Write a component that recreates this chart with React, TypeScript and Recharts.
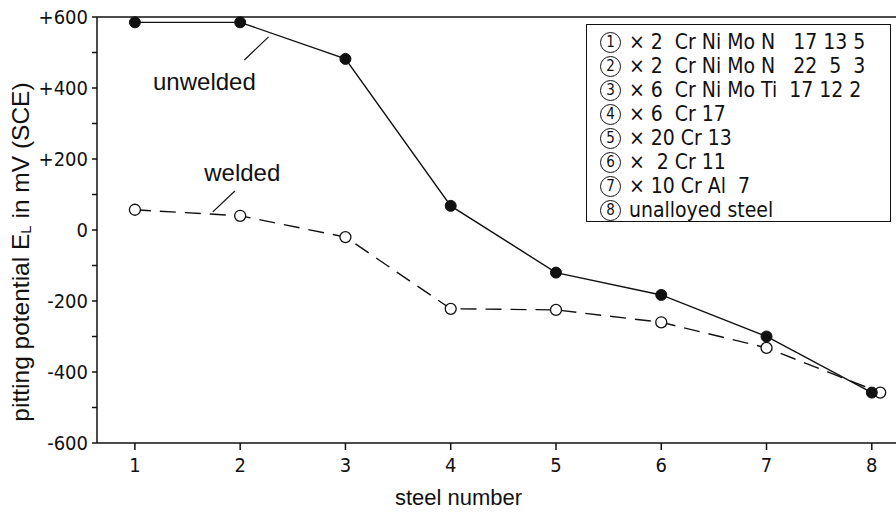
import React from "react";
import { LineChart, Line, XAxis, YAxis, ReferenceLine, ReferenceDot } from "recharts";

const steelNumbers = [1, 2, 3, 4, 5, 6, 7, 8];
const unweldedValues = [585, 585, 482, 68, -120, -183, -300, -458];
const weldedPositions = [1, 2, 3, 4, 5, 6, 7, 8.08];
const weldedValues = [57, 40, -20, -222, -225, -260, -332, -458];
const yTicks = [-600, -500, -400, -300, -200, -100, 0, 100, 200, 300, 400, 500, 600];
const xTicks = [1, 2, 3, 4, 5, 6, 7, 8];
const legendNumbers = ["1", "2", "3", "4", "5", "6", "7", "8"];
const legendTexts = [
  "× 2  Cr Ni Mo N   17 13 5",
  "× 2  Cr Ni Mo N   22  5  3",
  "× 6  Cr Ni Mo Ti  17 12 2",
  "× 6  Cr 17",
  "× 20 Cr 13",
  "×  2 Cr 11",
  "× 10 Cr Al  7",
  "unalloyed steel",
];

const unweldedData = steelNumbers.map((x, i) => ({ x, y: unweldedValues[i] }));
const weldedData = weldedPositions.map((x, i) => ({ x, y: weldedValues[i] }));

const NARROW = "'DejaVu Sans', sans-serif";
const SANS = "'Liberation Sans', Arial, sans-serif";

const YTick = (props: any) => {
  const { x, y, payload } = props;
  const v = payload.value;
  if (v % 200 !== 0) return null;
  const label = v > 0 ? `+${v}` : v < 0 ? `-${Math.abs(v)}` : "0";
  return (
    <text x={x - 2} y={y} dy={7} textAnchor="end" fontSize={20} fontFamily={NARROW} style={{ fontStretch: "condensed" }} fill="#111">
      {label}
    </text>
  );
};

const XTick = (props: any) => {
  const { x, y, payload } = props;
  return (
    <text x={x} y={y} dy={20} textAnchor="middle" fontSize={20} fontFamily={NARROW} style={{ fontStretch: "condensed" }} fill="#111">
      {payload.value}
    </text>
  );
};

const XLabel = (props: any) => {
  const vb = props.viewBox || {};
  const cx = (vb.x ?? 97) + (vb.width ?? 799) / 2 - 38;
  const cy = 505;
  return (
    <text x={cx} y={cy} textAnchor="middle" fontSize={22} fontFamily={SANS} fill="#111">
      steel number
    </text>
  );
};

const YLabel = () => {
  const cx = 20;
  const cy = 252;
  return (
    <text
      x={cx}
      y={cy}
      transform={`rotate(-90, ${cx}, ${cy})`}
      textAnchor="middle"
      dominantBaseline="central"
      fontSize={24.5}
      fontFamily={SANS}
      fill="#111"
    >
      pitting potential E
      <tspan fontSize={15} dy={5}>L</tspan>
      <tspan dy={-5}> in mV (SCE)</tspan>
    </text>
  );
};

const OpenDot = (props: any) => {
  const { cx, cy } = props;
  return <circle cx={cx} cy={cy} r={5.5} fill="#fff" stroke="#111" strokeWidth={1.3} />;
};
const FilledDot = (props: any) => {
  const { cx, cy } = props;
  return <circle cx={cx} cy={cy} r={5.5} fill="#111" stroke="#111" strokeWidth={1} />;
};

export default function App() {
  return (
    <div style={{ position: "absolute", left: 0, top: 0, width: 896, height: 515, background: "#fff" }}>
      <LineChart width={896} height={515} margin={{ top: 17, right: 0, bottom: 0, left: 0 }}>
        <XAxis
          type="number"
          dataKey="x"
          domain={[0.64, 8.23]}
          ticks={xTicks}
          allowDataOverflow
          height={72}
          tick={<XTick />}
          tickSize={7}
          stroke="#111"
          strokeWidth={1.5}
          label={<XLabel />}
        />
        <YAxis
          type="number"
          dataKey="y"
          domain={[-600, 600]}
          ticks={yTicks}
          width={97}
          tick={<YTick />}
          tickSize={5}
          stroke="#111"
          strokeWidth={1.5}
          label={<YLabel />}
        />
        <ReferenceLine y={600} stroke="#111" strokeWidth={1.5} ifOverflow="extendDomain" />
        <ReferenceLine
          segment={[{ x: 2.04, y: 479 }, { x: 2.27, y: 544 }]}
          stroke="#111"
          strokeWidth={1.2}
        />
        <ReferenceLine
          segment={[{ x: 1.74, y: 51 }, { x: 1.95, y: 110 }]}
          stroke="#111"
          strokeWidth={1.2}
        />
        <ReferenceDot
          x={1.66}
          y={417}
          r={0}
          fill="none"
          stroke="none"
          label={{ value: "unwelded", position: "center", fontSize: 24, fontFamily: SANS, fill: "#111" }}
        />
        <ReferenceDot
          x={2.02}
          y={163}
          r={0}
          fill="none"
          stroke="none"
          label={{ value: "welded", position: "center", fontSize: 24, fontFamily: SANS, fill: "#111" }}
        />
        <Line
          data={weldedData}
          dataKey="y"
          type="linear"
          stroke="#111"
          strokeWidth={1.4}
          strokeDasharray="16 9"
          dot={<OpenDot />}
          isAnimationActive={false}
        />
        <Line
          data={unweldedData}
          dataKey="y"
          type="linear"
          stroke="#111"
          strokeWidth={1.4}
          dot={<FilledDot />}
          isAnimationActive={false}
        />
      </LineChart>
      <div
        style={{
          position: "absolute",
          left: 586,
          top: 24,
          width: 305,
          height: 198,
          border: "1.5px solid #111",
          background: "#fff",
          boxSizing: "border-box",
          padding: "5px 0 0 13px",
          fontFamily: NARROW,
          fontStretch: "condensed",
          fontSize: 21,
          lineHeight: "24px",
          color: "#111",
          whiteSpace: "pre",
        }}
      >
        {legendTexts.map((t, i) => (
          <div key={t} style={{ display: "flex", alignItems: "center", height: 24 }}>
            <span
              style={{
                display: "inline-flex",
                alignItems: "center",
                justifyContent: "center",
                width: 21,
                height: 21,
                border: "1.5px solid #111",
                borderRadius: "50%",
                boxSizing: "border-box",
                fontSize: 15,
                lineHeight: "15px",
                marginRight: 8,
              }}
            >
              {legendNumbers[i]}
            </span>
            <span>{t}</span>
          </div>
        ))}
      </div>
    </div>
  );
}
